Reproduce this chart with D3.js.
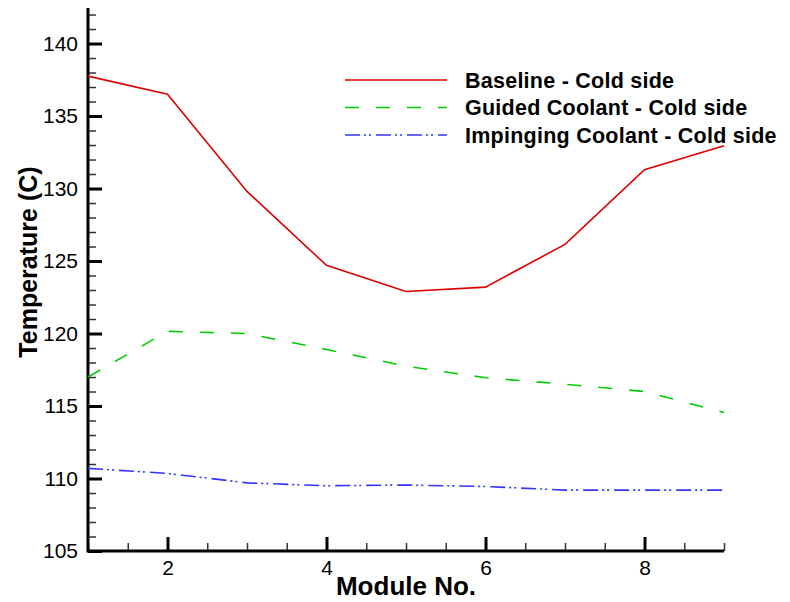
<!DOCTYPE html>
<html>
<head>
<meta charset="utf-8">
<script src="https://cdn.jsdelivr.net/npm/d3@7/dist/d3.min.js"></script>
<style>
  body { margin: 0; background: #fff; }
  svg { display: block; font-family: 'Liberation Sans', Arial, sans-serif; }
</style>
</head>
<body>
<svg id="chart" width="790" height="602"></svg>
<script>
// module positions and temperatures (C)
const modules = [1, 2, 3, 4, 5, 6, 7, 8, 9];
const baseline = [137.75, 136.5, 129.8, 124.7, 122.9, 123.2, 126.15, 131.3, 132.95];
const guided = [117.0, 120.15, 120.0, 118.9, 117.75, 116.95, 116.5, 116.0, 114.55];
const impinging = [110.7, 110.35, 109.7, 109.5, 109.55, 109.45, 109.2, 109.2, 109.2];

const seriesNames = ['Baseline - Cold side', 'Guided Coolant - Cold side', 'Impinging Coolant - Cold side'];
const seriesColors = ['#dd0000', '#00cc00', '#3333ff'];
const seriesDashes = [null, '14,17', '15,4,2,3,2,5'];

const xMajor = [2, 4, 6, 8];
const yMajor = [105, 110, 115, 120, 125, 130, 135, 140];

const plotLeft = 88, plotRight = 724, plotTop = 8, plotBottom = 551;

const x = d3.scaleLinear().domain([1, 9]).range([plotLeft, plotRight]);
const y = d3.scaleLinear().domain([105, 142.45]).range([plotBottom, plotTop]);

const svg = d3.select('#chart');

// minor ticks
svg.append('g')
    .attr('transform', `translate(${plotLeft},0)`)
    .call(d3.axisLeft(y).tickValues(d3.range(105, 142.5, 1)).tickSize(-8).tickFormat(''))
    .call(g => g.select('.domain').remove())
    .call(g => g.selectAll('line').attr('stroke', '#333').attr('stroke-width', 1.5));

svg.append('g')
    .attr('transform', `translate(0,${plotBottom})`)
    .call(d3.axisBottom(x).tickValues(d3.range(1, 9.01, 0.5)).tickSize(-8).tickFormat(''))
    .call(g => g.select('.domain').remove())
    .call(g => g.selectAll('line').attr('stroke', '#333').attr('stroke-width', 1.5));

// major ticks + labels
svg.append('g')
    .attr('transform', `translate(${plotLeft},0)`)
    .call(d3.axisLeft(y).tickValues(yMajor).tickSize(-14).tickPadding(10).tickFormat(d3.format('d')))
    .call(g => g.select('.domain').remove())
    .call(g => g.selectAll('line').attr('stroke', '#000').attr('stroke-width', 3))
    .call(g => g.selectAll('text').attr('font-size', 21).attr('fill', '#000')
        .attr('font-family', "'Liberation Sans', Arial, sans-serif"));

svg.append('g')
    .attr('transform', `translate(0,${plotBottom})`)
    .call(d3.axisBottom(x).tickValues(xMajor).tickSize(-14).tickPadding(9).tickFormat(d3.format('d')))
    .call(g => g.select('.domain').remove())
    .call(g => g.selectAll('line').attr('stroke', '#000').attr('stroke-width', 3))
    .call(g => g.selectAll('text').attr('font-size', 21).attr('fill', '#000')
        .attr('font-family', "'Liberation Sans', Arial, sans-serif"));

// axis lines
svg.append('path')
    .attr('d', `M${plotLeft},${plotTop}V${plotBottom}H${plotRight}`)
    .attr('fill', 'none')
    .attr('stroke', '#000')
    .attr('stroke-width', 3);

// series
const series = [baseline, guided, impinging];
const line = d3.line().x((d, i) => x(modules[i])).y(d => y(d));

series.forEach((vals, k) => {
    svg.append('path')
        .datum(vals)
        .attr('d', line)
        .attr('fill', 'none')
        .attr('stroke', seriesColors[k])
        .attr('stroke-width', 1.6)
        .attr('stroke-dasharray', seriesDashes[k]);
});

// legend
const legend = svg.append('g');
seriesNames.forEach((name, k) => {
    const ly = 80 + k * 27.5;
    legend.append('line')
        .attr('x1', 345).attr('x2', 447)
        .attr('y1', ly).attr('y2', ly)
        .attr('stroke', seriesColors[k])
        .attr('stroke-width', 1.6)
        .attr('stroke-dasharray', seriesDashes[k]);
    legend.append('text')
        .attr('x', 465).attr('y', ly)
        .attr('dy', '0.36em')
        .attr('font-size', 21.5)
        .attr('font-weight', 'bold')
        .attr('letter-spacing', 0.25)
        .text(name);
});

// axis titles
svg.append('text')
    .attr('x', (plotLeft + plotRight) / 2).attr('y', 595)
    .attr('text-anchor', 'middle')
    .attr('font-size', 26)
    .attr('font-weight', 'bold')
    .text('Module No.');

svg.append('text')
    .attr('transform', `translate(37,262) rotate(-90)`)
    .attr('text-anchor', 'middle')
    .attr('font-size', 25)
    .attr('font-weight', 'bold')
    .text('Temperature (C)');
</script>
</body>
</html>
